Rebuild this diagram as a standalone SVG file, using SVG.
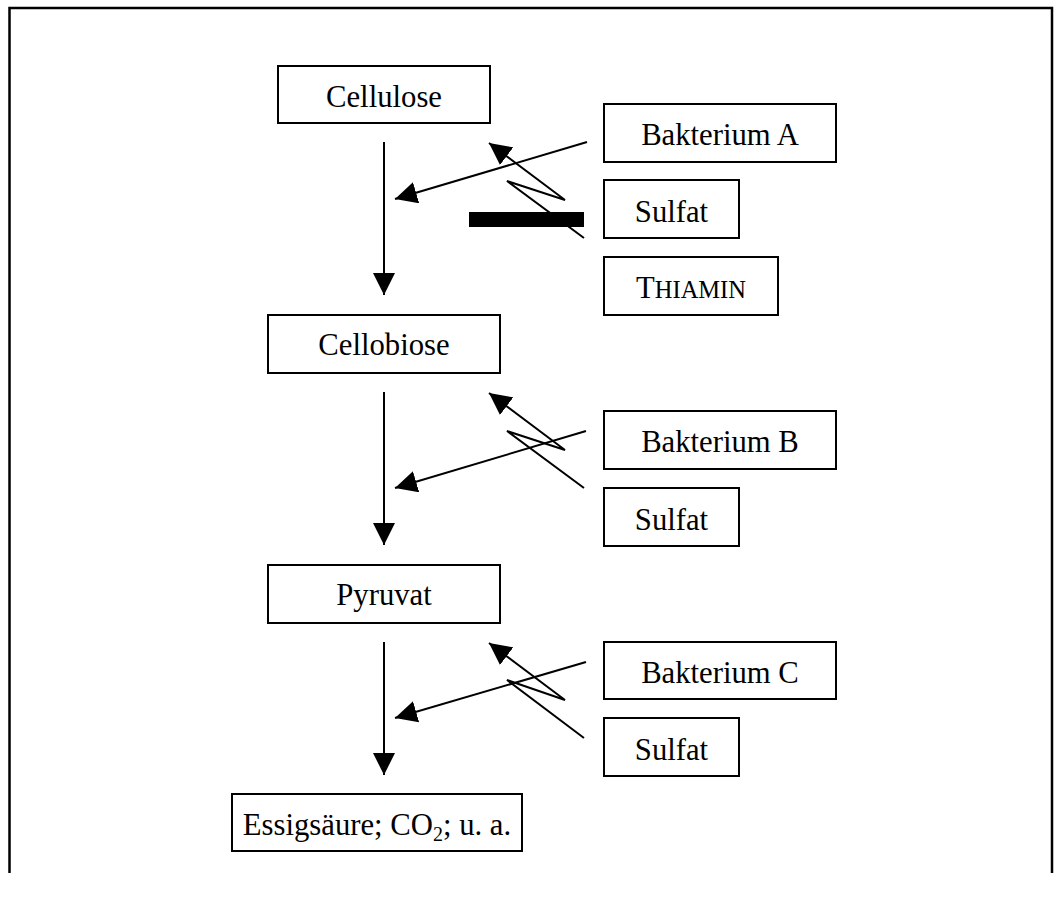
<svg xmlns="http://www.w3.org/2000/svg" width="1061" height="924" viewBox="0 0 1061 924">
  <style>
    .box { fill: #fff; stroke: #000; stroke-width: 2; }
    .lbl { font-family: "Liberation Serif", "Times New Roman", serif; font-size: 30.7px; fill: #000; text-anchor: middle; }
    .ln { fill: none; stroke: #000; stroke-width: 2; }
    .frame { fill: none; stroke: #000; stroke-width: 2.5; }
  </style>
  <defs>
    <marker id="head" markerUnits="userSpaceOnUse" markerWidth="22" markerHeight="22" viewBox="0 0 20 20" refX="20" refY="10" orient="auto">
      <path d="M0,0 L20,10 L0,20 Z" fill="#000"/>
    </marker>
  </defs>

  <rect width="1061" height="924" fill="#fff"/>

  <!-- outer frame (open at the bottom) -->
  <path class="frame" d="M9.5,873 V8 H1052 V873"/>

  <!-- pathway and regulation connectors -->
  <g id="connectors">
    <line class="ln" x1="384" y1="142" x2="384" y2="295" marker-end="url(#head)"/>
    <line class="ln" x1="384" y1="392" x2="384" y2="545" marker-end="url(#head)"/>
    <line class="ln" x1="384" y1="642" x2="384" y2="775" marker-end="url(#head)"/>

    <line class="ln" x1="587" y1="142" x2="395" y2="199" marker-end="url(#head)"/>
    <line class="ln" x1="586" y1="431" x2="395" y2="488" marker-end="url(#head)"/>
    <line class="ln" x1="586" y1="662" x2="395" y2="718" marker-end="url(#head)"/>

    <polyline class="ln" points="584,238 507,181 565,200 489,143" marker-end="url(#head)"/>
    <polyline class="ln" points="584,488 507,431 565,450 489,393" marker-end="url(#head)"/>
    <polyline class="ln" points="584,738 507,680 565,700 489,643" marker-end="url(#head)"/>

    <!-- inhibition bar -->
    <rect x="469" y="212" width="115" height="15" fill="#000"/>
  </g>

  <g id="cellulose">
    <rect class="box" x="278" y="66" width="212" height="57"/>
    <text class="lbl" x="384" y="107">Cellulose</text>
  </g>
  <g id="cellobiose">
    <rect class="box" x="268" y="315" width="232" height="58"/>
    <text class="lbl" x="384" y="355">Cellobiose</text>
  </g>
  <g id="pyruvat">
    <rect class="box" x="268" y="565" width="232" height="58"/>
    <text class="lbl" x="384" y="605">Pyruvat</text>
  </g>
  <g id="endprodukte">
    <rect class="box" x="232" y="794" width="290" height="57"/>
    <text class="lbl" x="377" y="835">Essigsäure; CO<tspan font-size="20" dy="6">2</tspan><tspan dy="-6">; u. a.</tspan></text>
  </g>

  <g id="bakterium-a">
    <rect class="box" x="604" y="104" width="232" height="58"/>
    <text class="lbl" x="720" y="145">Bakterium A</text>
  </g>
  <g id="sulfat-a">
    <rect class="box" x="604" y="180" width="135" height="58"/>
    <text class="lbl" x="671.5" y="222">Sulfat</text>
  </g>
  <g id="thiamin">
    <rect class="box" x="604" y="257" width="174" height="58"/>
    <text class="lbl" x="691" y="298">T<tspan font-size="24.5">HIAMIN</tspan></text>
  </g>

  <g id="bakterium-b">
    <rect class="box" x="604" y="411" width="232" height="58"/>
    <text class="lbl" x="720" y="452">Bakterium B</text>
  </g>
  <g id="sulfat-b">
    <rect class="box" x="604" y="488" width="135" height="58"/>
    <text class="lbl" x="671.5" y="530">Sulfat</text>
  </g>

  <g id="bakterium-c">
    <rect class="box" x="604" y="642" width="232" height="57"/>
    <text class="lbl" x="720" y="683">Bakterium C</text>
  </g>
  <g id="sulfat-c">
    <rect class="box" x="604" y="718" width="135" height="58"/>
    <text class="lbl" x="671.5" y="760">Sulfat</text>
  </g>
</svg>
